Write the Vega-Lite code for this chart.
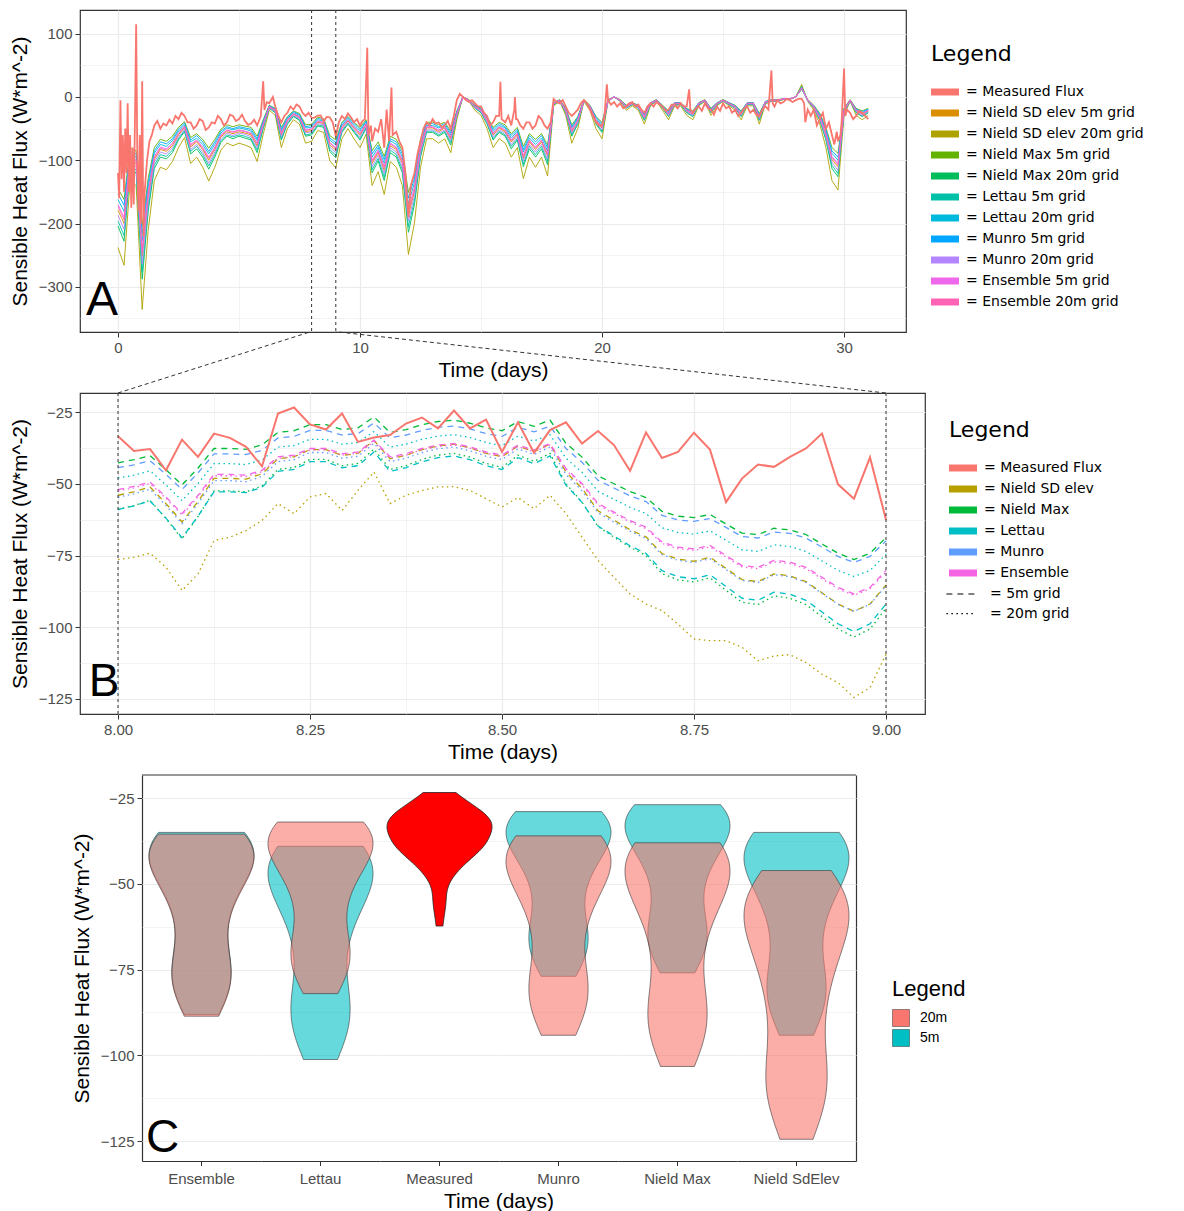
{
"$schema":"https://vega.github.io/schema/vega-lite/v6.json",
"background":"white",
"padding":{"left":8,"top":8,"right":0,"bottom":0},
"config":{
 "view":{"stroke":null},
 "font":"Liberation Sans",
 "axis":{"labelFont":"Liberation Sans","labelFontSize":15,"labelColor":"#4D4D4D","titleFont":"Liberation Sans","titleFontSize":21,"titleFontWeight":"normal","titleColor":"#000000","tickColor":"#333333","tickSize":5,"tickWidth":1,"domain":false,"gridColor":"#EBEBEB","labelPadding":3,"labelOverlap":false},
 "legend":{"titleFontWeight":"normal","titleColor":"#000000","labelColor":"#000000","padding":0},
 "header":{"labelFont":"Liberation Sans","titleFont":"Liberation Sans"}
},
"datasets":{
 "keys":[
  {"key":"ME","aname":"Measured Flux","model":"Measured Flux","cm":"Measured","grid":"meas"},
  {"key":"NS5","aname":"Nield SD elev 5m grid","model":"Nield SD elev","cm":"Nield SdElev","grid":"5m"},
  {"key":"NS20","aname":"Nield SD elev 20m grid","model":"Nield SD elev","cm":"Nield SdElev","grid":"20m"},
  {"key":"NM5","aname":"Nield Max 5m grid","model":"Nield Max","cm":"Nield Max","grid":"5m"},
  {"key":"NM20","aname":"Nield Max 20m grid","model":"Nield Max","cm":"Nield Max","grid":"20m"},
  {"key":"LE5","aname":"Lettau 5m grid","model":"Lettau","cm":"Lettau","grid":"5m"},
  {"key":"LE20","aname":"Lettau 20m grid","model":"Lettau","cm":"Lettau","grid":"20m"},
  {"key":"MU5","aname":"Munro 5m grid","model":"Munro","cm":"Munro","grid":"5m"},
  {"key":"MU20","aname":"Munro 20m grid","model":"Munro","cm":"Munro","grid":"20m"},
  {"key":"EN5","aname":"Ensemble 5m grid","model":"Ensemble","cm":"Ensemble","grid":"5m"},
  {"key":"EN20","aname":"Ensemble 20m grid","model":"Ensemble","cm":"Ensemble","grid":"20m"}
 ],
 "am":[
  {"t":0,"v":-120},{"t":0.05,"v":-160},{"t":0.1,"v":-5},{"t":0.15,"v":-130},{"t":0.2,"v":-60},{"t":0.25,"v":-150},{"t":0.3,"v":-50},{"t":0.35,"v":-120},{"t":0.4,"v":-10},{"t":0.45,"v":-150},{"t":0.5,"v":-60},{"t":0.55,"v":-175},{"t":0.6,"v":-80},{"t":0.65,"v":-170},{"t":0.7,"v":-40},{"t":0.75,"v":115},{"t":0.8,"v":-100},{"t":0.85,"v":-180},{"t":0.9,"v":-60},{"t":0.95,"v":-200},{"t":1.0,"v":25},{"t":1.05,"v":-220},{"t":1.1,"v":-150},{"t":1.2,"v":-100},{"t":1.3,"v":-70},{"t":1.4,"v":-60},
  {"t":1.5,"v":-45},{"t":1.625,"v":-38},{"t":1.75,"v":-50},{"t":1.875,"v":-42},{"t":2.0,"v":-45},{"t":2.125,"v":-36},{"t":2.25,"v":-42},{"t":2.375,"v":-30},{"t":2.5,"v":-35},{"t":2.625,"v":-25},{"t":2.75,"v":-30},{"t":2.875,"v":-40},{"t":3.0,"v":-40},{"t":3.125,"v":-50},{"t":3.25,"v":-45},{"t":3.375,"v":-35},{"t":3.5,"v":-38},{"t":3.625,"v":-52},{"t":3.75,"v":-48},{"t":3.875,"v":-40},{"t":4.0,"v":-42},{"t":4.125,"v":-30},{"t":4.25,"v":-35},{"t":4.375,"v":-45},{"t":4.5,"v":-40},{"t":4.625,"v":-28},{"t":4.75,"v":-30},{"t":4.875,"v":-38},{"t":5.0,"v":-35},{"t":5.125,"v":-28},{"t":5.25,"v":-38},{"t":5.375,"v":-44},{"t":5.5,"v":-42},{"t":5.625,"v":-36},{"t":5.75,"v":-45},{"t":5.9,"v":-30},{"t":6.0,"v":25},{"t":6.05,"v":-20},{"t":6.15,"v":-8},{"t":6.25,"v":-10},{"t":6.4,"v":0},{"t":6.5,"v":-15},{"t":6.625,"v":-30},{"t":6.75,"v":-40},{"t":6.875,"v":-30},{"t":7.0,"v":-25},{"t":7.125,"v":-15},{"t":7.25,"v":-20},{"t":7.375,"v":-12},{"t":7.5,"v":-15},{"t":7.625,"v":-25},{"t":7.75,"v":-30},{"t":7.875,"v":-25},
  {"t":8.0,"v":-33},{"t":8.125,"v":-32.5},{"t":8.25,"v":-29.3},{"t":8.375,"v":-29},{"t":8.5,"v":-38.9},{"t":8.625,"v":-31.6},{"t":8.75,"v":-32.2},{"t":8.875,"v":-40.6},{"t":9.0,"v":-62.5},{"t":9.125,"v":-40},{"t":9.25,"v":-30},{"t":9.375,"v":-35},{"t":9.5,"v":-26},{"t":9.625,"v":-32},{"t":9.75,"v":-40},{"t":9.875,"v":-35},{"t":10.0,"v":-45},{"t":10.1,"v":-38},{"t":10.2,"v":-35},{"t":10.3,"v":78},{"t":10.35,"v":-60},{"t":10.45,"v":-45},{"t":10.5,"v":-70},{"t":10.625,"v":-50},{"t":10.75,"v":-55},{"t":10.875,"v":-35},{"t":11.0,"v":-80},{"t":11.1,"v":-20},{"t":11.2,"v":-70},{"t":11.3,"v":15},{"t":11.35,"v":-60},{"t":11.5,"v":-55},{"t":11.625,"v":-70},{"t":11.75,"v":-80},{"t":11.875,"v":-120},{"t":12.0,"v":-190},{"t":12.1,"v":-140},{"t":12.25,"v":-120},{"t":12.375,"v":-90},{"t":12.5,"v":-70},{"t":12.625,"v":-50},{"t":12.75,"v":-40},{"t":12.875,"v":-45},{"t":13.0,"v":-35},{"t":13.125,"v":-42},{"t":13.25,"v":-40},{"t":13.375,"v":-48},{"t":13.5,"v":-45},{"t":13.625,"v":-38},{"t":13.75,"v":-50},{"t":13.875,"v":-30},
  {"t":14.0,"v":-5},{"t":14.125,"v":5},{"t":14.25,"v":0},{"t":14.375,"v":-5},{"t":14.5,"v":-8},{"t":14.625,"v":-5},{"t":14.75,"v":-10},{"t":14.875,"v":-15},{"t":15.0,"v":-15},{"t":15.125,"v":-25},{"t":15.25,"v":-30},{"t":15.375,"v":-45},{"t":15.5,"v":-40},{"t":15.625,"v":-30},{"t":15.75,"v":-30},{"t":15.8,"v":24},{"t":15.85,"v":-35},{"t":16.0,"v":-40},{"t":16.125,"v":-30},{"t":16.25,"v":-45},{"t":16.375,"v":-20},{"t":16.4,"v":0},{"t":16.45,"v":-35},{"t":16.5,"v":-35},{"t":16.625,"v":-45},{"t":16.75,"v":-50},{"t":16.875,"v":-40},{"t":17.0,"v":-40},{"t":17.125,"v":-50},{"t":17.25,"v":-45},{"t":17.375,"v":-30},{"t":17.5,"v":-35},{"t":17.625,"v":-45},{"t":17.75,"v":-50},{"t":17.875,"v":-40},{"t":18.0,"v":-3},{"t":18.125,"v":-8},{"t":18.25,"v":-10},{"t":18.375,"v":-5},{"t":18.5,"v":-15},{"t":18.625,"v":-25},{"t":18.75,"v":-30},{"t":18.875,"v":-25},{"t":19.0,"v":-20},{"t":19.125,"v":-10},{"t":19.25,"v":-5},{"t":19.375,"v":-10},{"t":19.5,"v":-20},{"t":19.625,"v":-30},{"t":19.75,"v":-40},{"t":19.875,"v":-45},{"t":20.0,"v":-45},{"t":20.1,"v":-30},{"t":20.2,"v":20},{"t":20.25,"v":-5},{"t":20.375,"v":-12},{"t":20.5,"v":-8},{"t":20.625,"v":-15},{"t":20.75,"v":-10},{"t":20.875,"v":-18},{"t":21.0,"v":-15},{"t":21.125,"v":-10},{"t":21.25,"v":-8},{"t":21.375,"v":-15},{"t":21.5,"v":-12},{"t":21.625,"v":-20},{"t":21.75,"v":-25},{"t":21.875,"v":-15},{"t":22.0,"v":-10},{"t":22.125,"v":-15},{"t":22.25,"v":-8},{"t":22.375,"v":-12},{"t":22.5,"v":-15},{"t":22.625,"v":-22},{"t":22.75,"v":-20},{"t":22.875,"v":-12},{"t":23.0,"v":-12},{"t":23.125,"v":-18},{"t":23.25,"v":-10},{"t":23.375,"v":-15},{"t":23.5,"v":-15},{"t":23.6,"v":12},{"t":23.65,"v":-20},{"t":23.75,"v":-25},{"t":23.875,"v":-18},
  {"t":24.0,"v":-15},{"t":24.125,"v":-22},{"t":24.25,"v":-10},{"t":24.375,"v":-18},{"t":24.5,"v":-20},{"t":24.625,"v":-28},{"t":24.75,"v":-15},{"t":24.875,"v":-22},{"t":25.0,"v":-10},{"t":25.125,"v":-18},{"t":25.25,"v":-15},{"t":25.375,"v":-25},{"t":25.5,"v":-20},{"t":25.625,"v":-30},{"t":25.75,"v":-25},{"t":25.875,"v":-18},{"t":26.0,"v":-15},{"t":26.125,"v":-25},{"t":26.25,"v":-20},{"t":26.375,"v":-28},{"t":26.5,"v":-30},{"t":26.625,"v":-20},{"t":26.75,"v":-15},{"t":26.875,"v":-20},{"t":27.0,"v":42},{"t":27.05,"v":-10},{"t":27.125,"v":-15},{"t":27.25,"v":-5},{"t":27.375,"v":-10},{"t":27.5,"v":-8},{"t":27.625,"v":-3},{"t":27.75,"v":-5},{"t":27.875,"v":-8},{"t":28.0,"v":-5},{"t":28.125,"v":-3},{"t":28.25,"v":-3},{"t":28.35,"v":-10},{"t":28.4,"v":-40},{"t":28.5,"v":-20},{"t":28.625,"v":-30},{"t":28.75,"v":-20},{"t":28.875,"v":-45},{"t":29.0,"v":-35},{"t":29.125,"v":-25},{"t":29.25,"v":-50},{"t":29.375,"v":-40},{"t":29.5,"v":-60},{"t":29.6,"v":-75},{"t":29.7,"v":-55},{"t":29.75,"v":-70},{"t":29.85,"v":-60},{"t":29.9,"v":-40},{"t":30.0,"v":45},{"t":30.05,"v":-30},{"t":30.125,"v":-20},{"t":30.25,"v":-25},{"t":30.375,"v":-35},{"t":30.5,"v":-30},{"t":30.625,"v":-22},{"t":30.75,"v":-25},{"t":30.875,"v":-30},{"t":31.0,"v":-35}
 ],
 "aw":[
  {"t":0,"EN5":-170,"NM5":-145,"MU5":-153,"LE20":-162,"EN20":-173,"NS5":-179,"MU20":-187,"LE5":-196,"NM20":-204,"NS20":-238},
  {"t":0.25,"EN5":-190,"NM5":-162,"MU5":-171,"LE20":-181,"EN20":-194,"NS5":-200,"MU20":-209,"LE5":-219,"NM20":-228,"NS20":-266},
  {"t":0.5,"EN5":-95,"NM5":-81,"MU5":-86,"LE20":-90,"EN20":-97,"NS5":-100,"MU20":-105,"LE5":-109,"NM20":-114,"NS20":-133},
  {"t":0.75,"EN5":-100,"NM5":-85,"MU5":-90,"LE20":-95,"EN20":-102,"NS5":-105,"MU20":-110,"LE5":-115,"NM20":-120,"NS20":-140},
  {"t":1,"EN5":-240,"NM5":-204,"MU5":-216,"LE20":-228,"EN20":-245,"NS5":-252,"MU20":-264,"LE5":-276,"NM20":-288,"NS20":-336},
  {"t":1.25,"EN5":-150,"NM5":-128,"MU5":-135,"LE20":-143,"EN20":-153,"NS5":-158,"MU20":-165,"LE5":-173,"NM20":-180,"NS20":-210},
  {"t":1.5,"EN5":-94,"NM5":-80,"MU5":-85,"LE20":-89,"EN20":-96,"NS5":-99,"MU20":-103,"LE5":-108,"NM20":-113,"NS20":-132},
  {"t":1.75,"EN5":-79,"NM5":-67,"MU5":-71,"LE20":-75,"EN20":-81,"NS5":-83,"MU20":-87,"LE5":-91,"NM20":-95,"NS20":-111},
  {"t":2,"EN5":-82,"NM5":-70,"MU5":-74,"LE20":-78,"EN20":-84,"NS5":-86,"MU20":-90,"LE5":-94,"NM20":-98,"NS20":-115},
  {"t":2.25,"EN5":-73,"NM5":-62,"MU5":-66,"LE20":-69,"EN20":-74,"NS5":-77,"MU20":-80,"LE5":-84,"NM20":-88,"NS20":-102},
  {"t":2.5,"EN5":-57,"NM5":-48,"MU5":-51,"LE20":-54,"EN20":-58,"NS5":-60,"MU20":-63,"LE5":-66,"NM20":-68,"NS20":-80},
  {"t":2.75,"EN5":-46,"NM5":-39,"MU5":-41,"LE20":-44,"EN20":-47,"NS5":-48,"MU20":-51,"LE5":-53,"NM20":-55,"NS20":-64},
  {"t":3,"EN5":-75,"NM5":-64,"MU5":-68,"LE20":-71,"EN20":-77,"NS5":-79,"MU20":-83,"LE5":-86,"NM20":-90,"NS20":-105},
  {"t":3.25,"EN5":-68,"NM5":-58,"MU5":-61,"LE20":-65,"EN20":-69,"NS5":-71,"MU20":-75,"LE5":-78,"NM20":-82,"NS20":-95},
  {"t":3.5,"EN5":-79,"NM5":-67,"MU5":-71,"LE20":-75,"EN20":-81,"NS5":-83,"MU20":-87,"LE5":-91,"NM20":-95,"NS20":-111},
  {"t":3.75,"EN5":-95,"NM5":-81,"MU5":-86,"LE20":-90,"EN20":-97,"NS5":-100,"MU20":-105,"LE5":-109,"NM20":-114,"NS20":-133},
  {"t":4,"EN5":-79,"NM5":-67,"MU5":-71,"LE20":-75,"EN20":-81,"NS5":-83,"MU20":-87,"LE5":-91,"NM20":-95,"NS20":-111},
  {"t":4.25,"EN5":-60,"NM5":-51,"MU5":-54,"LE20":-57,"EN20":-61,"NS5":-63,"MU20":-66,"LE5":-69,"NM20":-72,"NS20":-84},
  {"t":4.5,"EN5":-52,"NM5":-44,"MU5":-47,"LE20":-49,"EN20":-53,"NS5":-55,"MU20":-57,"LE5":-60,"NM20":-62,"NS20":-73},
  {"t":4.75,"EN5":-55,"NM5":-47,"MU5":-50,"LE20":-52,"EN20":-56,"NS5":-58,"MU20":-61,"LE5":-63,"NM20":-66,"NS20":-77},
  {"t":5,"EN5":-52,"NM5":-44,"MU5":-47,"LE20":-49,"EN20":-53,"NS5":-55,"MU20":-57,"LE5":-60,"NM20":-62,"NS20":-73},
  {"t":5.25,"EN5":-54,"NM5":-46,"MU5":-49,"LE20":-51,"EN20":-55,"NS5":-57,"MU20":-59,"LE5":-62,"NM20":-65,"NS20":-76},
  {"t":5.5,"EN5":-57,"NM5":-48,"MU5":-51,"LE20":-54,"EN20":-58,"NS5":-60,"MU20":-63,"LE5":-66,"NM20":-68,"NS20":-80},
  {"t":5.75,"EN5":-73,"NM5":-62,"MU5":-66,"LE20":-69,"EN20":-74,"NS5":-77,"MU20":-80,"LE5":-84,"NM20":-88,"NS20":-102},
  {"t":6,"EN5":-42,"NM5":-36,"MU5":-38,"LE20":-40,"EN20":-43,"NS5":-44,"MU20":-46,"LE5":-48,"NM20":-50,"NS20":-59},
  {"t":6.25,"EN5":-15,"NM5":-13,"MU5":-14,"LE20":-14,"EN20":-15,"NS5":-16,"MU20":-17,"LE5":-17,"NM20":-18,"NS20":-21},
  {"t":6.5,"EN5":-21,"NM5":-18,"MU5":-19,"LE20":-20,"EN20":-21,"NS5":-22,"MU20":-23,"LE5":-24,"NM20":-25,"NS20":-29},
  {"t":6.75,"EN5":-57,"NM5":-48,"MU5":-51,"LE20":-54,"EN20":-58,"NS5":-60,"MU20":-63,"LE5":-66,"NM20":-68,"NS20":-80},
  {"t":7,"EN5":-36,"NM5":-31,"MU5":-32,"LE20":-34,"EN20":-37,"NS5":-38,"MU20":-40,"LE5":-41,"NM20":-43,"NS20":-50},
  {"t":7.25,"EN5":-26,"NM5":-22,"MU5":-23,"LE20":-25,"EN20":-27,"NS5":-27,"MU20":-29,"LE5":-30,"NM20":-31,"NS20":-36},
  {"t":7.5,"EN5":-31,"NM5":-26,"MU5":-28,"LE20":-29,"EN20":-32,"NS5":-33,"MU20":-34,"LE5":-36,"NM20":-37,"NS20":-43},
  {"t":7.75,"EN5":-52,"NM5":-44,"MU5":-47,"LE20":-49,"EN20":-53,"NS5":-55,"MU20":-57,"LE5":-60,"NM20":-62,"NS20":-73},
  {"t":8,"EN5":-50,"NM5":-43,"MU5":-45,"LE20":-48,"EN20":-51,"NS5":-53,"MU20":-55,"LE5":-58,"NM20":-60,"NS20":-70},
  {"t":8.25,"EN5":-38,"NM5":-32,"MU5":-34,"LE20":-36,"EN20":-39,"NS5":-40,"MU20":-42,"LE5":-44,"NM20":-46,"NS20":-53},
  {"t":8.5,"EN5":-40,"NM5":-34,"MU5":-36,"LE20":-38,"EN20":-41,"NS5":-42,"MU20":-44,"LE5":-46,"NM20":-48,"NS20":-56},
  {"t":8.75,"EN5":-72,"NM5":-61,"MU5":-65,"LE20":-68,"EN20":-73,"NS5":-76,"MU20":-79,"LE5":-83,"NM20":-86,"NS20":-101},
  {"t":9,"EN5":-80,"NM5":-68,"MU5":-72,"LE20":-76,"EN20":-82,"NS5":-84,"MU20":-88,"LE5":-92,"NM20":-96,"NS20":-112},
  {"t":9.25,"EN5":-47,"NM5":-40,"MU5":-42,"LE20":-45,"EN20":-48,"NS5":-49,"MU20":-52,"LE5":-54,"NM20":-56,"NS20":-66},
  {"t":9.5,"EN5":-36,"NM5":-31,"MU5":-32,"LE20":-34,"EN20":-37,"NS5":-38,"MU20":-40,"LE5":-41,"NM20":-43,"NS20":-50},
  {"t":9.75,"EN5":-47,"NM5":-40,"MU5":-42,"LE20":-45,"EN20":-48,"NS5":-49,"MU20":-52,"LE5":-54,"NM20":-56,"NS20":-66},
  {"t":10,"EN5":-57,"NM5":-48,"MU5":-51,"LE20":-54,"EN20":-58,"NS5":-60,"MU20":-63,"LE5":-66,"NM20":-68,"NS20":-80},
  {"t":10.25,"EN5":-42,"NM5":-36,"MU5":-38,"LE20":-40,"EN20":-43,"NS5":-44,"MU20":-46,"LE5":-48,"NM20":-50,"NS20":-59},
  {"t":10.5,"EN5":-100,"NM5":-85,"MU5":-90,"LE20":-95,"EN20":-102,"NS5":-105,"MU20":-110,"LE5":-115,"NM20":-120,"NS20":-140},
  {"t":10.75,"EN5":-84,"NM5":-71,"MU5":-76,"LE20":-80,"EN20":-86,"NS5":-88,"MU20":-92,"LE5":-97,"NM20":-101,"NS20":-118},
  {"t":11,"EN5":-110,"NM5":-94,"MU5":-99,"LE20":-105,"EN20":-112,"NS5":-116,"MU20":-121,"LE5":-127,"NM20":-132,"NS20":-154},
  {"t":11.25,"EN5":-73,"NM5":-62,"MU5":-66,"LE20":-69,"EN20":-74,"NS5":-77,"MU20":-80,"LE5":-84,"NM20":-88,"NS20":-102},
  {"t":11.5,"EN5":-79,"NM5":-67,"MU5":-71,"LE20":-75,"EN20":-81,"NS5":-83,"MU20":-87,"LE5":-91,"NM20":-95,"NS20":-111},
  {"t":11.75,"EN5":-100,"NM5":-85,"MU5":-90,"LE20":-95,"EN20":-102,"NS5":-105,"MU20":-110,"LE5":-115,"NM20":-120,"NS20":-140},
  {"t":12,"EN5":-178,"NM5":-151,"MU5":-160,"LE20":-169,"EN20":-182,"NS5":-187,"MU20":-196,"LE5":-205,"NM20":-214,"NS20":-249},
  {"t":12.25,"EN5":-142,"NM5":-121,"MU5":-128,"LE20":-135,"EN20":-145,"NS5":-149,"MU20":-156,"LE5":-163,"NM20":-170,"NS20":-199},
  {"t":12.5,"EN5":-79,"NM5":-67,"MU5":-71,"LE20":-75,"EN20":-81,"NS5":-83,"MU20":-87,"LE5":-91,"NM20":-95,"NS20":-111},
  {"t":12.75,"EN5":-47,"NM5":-40,"MU5":-42,"LE20":-45,"EN20":-48,"NS5":-49,"MU20":-52,"LE5":-54,"NM20":-56,"NS20":-66},
  {"t":13,"EN5":-47,"NM5":-40,"MU5":-42,"LE20":-45,"EN20":-48,"NS5":-49,"MU20":-52,"LE5":-54,"NM20":-56,"NS20":-66},
  {"t":13.25,"EN5":-52,"NM5":-44,"MU5":-47,"LE20":-49,"EN20":-53,"NS5":-55,"MU20":-57,"LE5":-60,"NM20":-62,"NS20":-73},
  {"t":13.5,"EN5":-47,"NM5":-40,"MU5":-42,"LE20":-45,"EN20":-48,"NS5":-49,"MU20":-52,"LE5":-54,"NM20":-56,"NS20":-66},
  {"t":13.75,"EN5":-63,"NM5":-54,"MU5":-57,"LE20":-60,"EN20":-64,"NS5":-66,"MU20":-69,"LE5":-72,"NM20":-76,"NS20":-88},
  {"t":14,"EN5":-26,"NM5":-22,"MU5":-23,"LE20":-25,"EN20":-27,"NS5":-27,"MU20":-29,"LE5":-30,"NM20":-31,"NS20":-36},
  {"t":14.25,"EN5":0,"NM5":0,"MU5":0,"LE20":0,"EN20":0,"NS5":0,"MU20":0,"LE5":0,"NM20":0,"NS20":0},
  {"t":14.5,"EN5":-5,"NM5":-4,"MU5":-5,"LE20":-5,"EN20":-5,"NS5":-5,"MU20":-6,"LE5":-6,"NM20":-6,"NS20":-7},
  {"t":14.75,"EN5":-15,"NM5":-13,"MU5":-14,"LE20":-14,"EN20":-15,"NS5":-16,"MU20":-17,"LE5":-17,"NM20":-18,"NS20":-21},
  {"t":15,"EN5":-21,"NM5":-18,"MU5":-19,"LE20":-20,"EN20":-21,"NS5":-22,"MU20":-23,"LE5":-24,"NM20":-25,"NS20":-29},
  {"t":15.25,"EN5":-36,"NM5":-31,"MU5":-32,"LE20":-34,"EN20":-37,"NS5":-38,"MU20":-40,"LE5":-41,"NM20":-43,"NS20":-50},
  {"t":15.5,"EN5":-57,"NM5":-48,"MU5":-51,"LE20":-54,"EN20":-58,"NS5":-60,"MU20":-63,"LE5":-66,"NM20":-68,"NS20":-80},
  {"t":15.75,"EN5":-47,"NM5":-40,"MU5":-42,"LE20":-45,"EN20":-48,"NS5":-49,"MU20":-52,"LE5":-54,"NM20":-56,"NS20":-66},
  {"t":16,"EN5":-52,"NM5":-44,"MU5":-47,"LE20":-49,"EN20":-53,"NS5":-55,"MU20":-57,"LE5":-60,"NM20":-62,"NS20":-73},
  {"t":16.25,"EN5":-68,"NM5":-58,"MU5":-61,"LE20":-65,"EN20":-69,"NS5":-71,"MU20":-75,"LE5":-78,"NM20":-82,"NS20":-95},
  {"t":16.5,"EN5":-57,"NM5":-48,"MU5":-51,"LE20":-54,"EN20":-58,"NS5":-60,"MU20":-63,"LE5":-66,"NM20":-68,"NS20":-80},
  {"t":16.75,"EN5":-92,"NM5":-78,"MU5":-83,"LE20":-87,"EN20":-94,"NS5":-97,"MU20":-101,"LE5":-106,"NM20":-110,"NS20":-129},
  {"t":17,"EN5":-68,"NM5":-58,"MU5":-61,"LE20":-65,"EN20":-69,"NS5":-71,"MU20":-75,"LE5":-78,"NM20":-82,"NS20":-95},
  {"t":17.25,"EN5":-79,"NM5":-67,"MU5":-71,"LE20":-75,"EN20":-81,"NS5":-83,"MU20":-87,"LE5":-91,"NM20":-95,"NS20":-111},
  {"t":17.5,"EN5":-68,"NM5":-58,"MU5":-61,"LE20":-65,"EN20":-69,"NS5":-71,"MU20":-75,"LE5":-78,"NM20":-82,"NS20":-95},
  {"t":17.75,"EN5":-89,"NM5":-76,"MU5":-80,"LE20":-85,"EN20":-91,"NS5":-93,"MU20":-98,"LE5":-102,"NM20":-107,"NS20":-125},
  {"t":18,"EN5":-10,"NM5":-9,"MU5":-9,"LE20":-10,"EN20":-10,"NS5":-11,"MU20":-11,"LE5":-12,"NM20":-12,"NS20":-14},
  {"t":18.25,"EN5":-5,"NM5":-4,"MU5":-5,"LE20":-5,"EN20":-5,"NS5":-5,"MU20":-6,"LE5":-6,"NM20":-6,"NS20":-7},
  {"t":18.5,"EN5":-21,"NM5":-18,"MU5":-19,"LE20":-20,"EN20":-21,"NS5":-22,"MU20":-23,"LE5":-24,"NM20":-25,"NS20":-29},
  {"t":18.75,"EN5":-52,"NM5":-44,"MU5":-47,"LE20":-49,"EN20":-53,"NS5":-55,"MU20":-57,"LE5":-60,"NM20":-62,"NS20":-73},
  {"t":19,"EN5":-36,"NM5":-31,"MU5":-32,"LE20":-34,"EN20":-37,"NS5":-38,"MU20":-40,"LE5":-41,"NM20":-43,"NS20":-50},
  {"t":19.25,"EN5":-5,"NM5":-4,"MU5":-5,"LE20":-5,"EN20":-5,"NS5":-5,"MU20":-6,"LE5":-6,"NM20":-6,"NS20":-7},
  {"t":19.5,"EN5":-15,"NM5":-13,"MU5":-14,"LE20":-14,"EN20":-15,"NS5":-16,"MU20":-17,"LE5":-17,"NM20":-18,"NS20":-21},
  {"t":19.75,"EN5":-36,"NM5":-31,"MU5":-32,"LE20":-34,"EN20":-37,"NS5":-38,"MU20":-40,"LE5":-41,"NM20":-43,"NS20":-50},
  {"t":20,"EN5":-47,"NM5":-40,"MU5":-42,"LE20":-45,"EN20":-48,"NS5":-49,"MU20":-52,"LE5":-54,"NM20":-56,"NS20":-66},
  {"t":20.25,"EN5":-5,"NM5":-4,"MU5":-5,"LE20":-5,"EN20":-5,"NS5":-5,"MU20":-6,"LE5":-6,"NM20":-6,"NS20":-7},
  {"t":20.5,"EN5":0,"NM5":0,"MU5":0,"LE20":0,"EN20":0,"NS5":0,"MU20":0,"LE5":0,"NM20":0,"NS20":0},
  {"t":20.75,"EN5":-5,"NM5":-4,"MU5":-5,"LE20":-5,"EN20":-5,"NS5":-5,"MU20":-6,"LE5":-6,"NM20":-6,"NS20":-7},
  {"t":21,"EN5":-15,"NM5":-13,"MU5":-14,"LE20":-14,"EN20":-15,"NS5":-16,"MU20":-17,"LE5":-17,"NM20":-18,"NS20":-21},
  {"t":21.25,"EN5":-10,"NM5":-9,"MU5":-9,"LE20":-10,"EN20":-10,"NS5":-11,"MU20":-11,"LE5":-12,"NM20":-12,"NS20":-14},
  {"t":21.5,"EN5":-15,"NM5":-13,"MU5":-14,"LE20":-14,"EN20":-15,"NS5":-16,"MU20":-17,"LE5":-17,"NM20":-18,"NS20":-21},
  {"t":21.75,"EN5":-31,"NM5":-26,"MU5":-28,"LE20":-29,"EN20":-32,"NS5":-33,"MU20":-34,"LE5":-36,"NM20":-37,"NS20":-43},
  {"t":22,"EN5":-10,"NM5":-9,"MU5":-9,"LE20":-10,"EN20":-10,"NS5":-11,"MU20":-11,"LE5":-12,"NM20":-12,"NS20":-14},
  {"t":22.25,"EN5":-5,"NM5":-4,"MU5":-5,"LE20":-5,"EN20":-5,"NS5":-5,"MU20":-6,"LE5":-6,"NM20":-6,"NS20":-7},
  {"t":22.5,"EN5":-15,"NM5":-13,"MU5":-14,"LE20":-14,"EN20":-15,"NS5":-16,"MU20":-17,"LE5":-17,"NM20":-18,"NS20":-21},
  {"t":22.75,"EN5":-26,"NM5":-22,"MU5":-23,"LE20":-25,"EN20":-27,"NS5":-27,"MU20":-29,"LE5":-30,"NM20":-31,"NS20":-36},
  {"t":23,"EN5":-10,"NM5":-9,"MU5":-9,"LE20":-10,"EN20":-10,"NS5":-11,"MU20":-11,"LE5":-12,"NM20":-12,"NS20":-14},
  {"t":23.25,"EN5":-10,"NM5":-9,"MU5":-9,"LE20":-10,"EN20":-10,"NS5":-11,"MU20":-11,"LE5":-12,"NM20":-12,"NS20":-14},
  {"t":23.5,"EN5":-21,"NM5":-18,"MU5":-19,"LE20":-20,"EN20":-21,"NS5":-22,"MU20":-23,"LE5":-24,"NM20":-25,"NS20":-29},
  {"t":23.75,"EN5":-26,"NM5":-22,"MU5":-23,"LE20":-25,"EN20":-27,"NS5":-27,"MU20":-29,"LE5":-30,"NM20":-31,"NS20":-36},
  {"t":24,"EN5":-10,"NM5":-9,"MU5":-9,"LE20":-10,"EN20":-10,"NS5":-11,"MU20":-11,"LE5":-12,"NM20":-12,"NS20":-14},
  {"t":24.25,"EN5":-5,"NM5":-4,"MU5":-5,"LE20":-5,"EN20":-5,"NS5":-5,"MU20":-6,"LE5":-6,"NM20":-6,"NS20":-7},
  {"t":24.5,"EN5":-21,"NM5":-18,"MU5":-19,"LE20":-20,"EN20":-21,"NS5":-22,"MU20":-23,"LE5":-24,"NM20":-25,"NS20":-29},
  {"t":24.75,"EN5":-10,"NM5":-9,"MU5":-9,"LE20":-10,"EN20":-10,"NS5":-11,"MU20":-11,"LE5":-12,"NM20":-12,"NS20":-14},
  {"t":25,"EN5":-5,"NM5":-4,"MU5":-5,"LE20":-5,"EN20":-5,"NS5":-5,"MU20":-6,"LE5":-6,"NM20":-6,"NS20":-7},
  {"t":25.25,"EN5":-10,"NM5":-9,"MU5":-9,"LE20":-10,"EN20":-10,"NS5":-11,"MU20":-11,"LE5":-12,"NM20":-12,"NS20":-14},
  {"t":25.5,"EN5":-15,"NM5":-13,"MU5":-14,"LE20":-14,"EN20":-15,"NS5":-16,"MU20":-17,"LE5":-17,"NM20":-18,"NS20":-21},
  {"t":25.75,"EN5":-26,"NM5":-22,"MU5":-23,"LE20":-25,"EN20":-27,"NS5":-27,"MU20":-29,"LE5":-30,"NM20":-31,"NS20":-36},
  {"t":26,"EN5":-10,"NM5":-9,"MU5":-9,"LE20":-10,"EN20":-10,"NS5":-11,"MU20":-11,"LE5":-12,"NM20":-12,"NS20":-14},
  {"t":26.25,"EN5":-10,"NM5":-9,"MU5":-9,"LE20":-10,"EN20":-10,"NS5":-11,"MU20":-11,"LE5":-12,"NM20":-12,"NS20":-14},
  {"t":26.5,"EN5":-31,"NM5":-26,"MU5":-28,"LE20":-29,"EN20":-32,"NS5":-33,"MU20":-34,"LE5":-36,"NM20":-37,"NS20":-43},
  {"t":26.75,"EN5":-8,"NM5":-7,"MU5":-7,"LE20":-8,"EN20":-8,"NS5":-8,"MU20":-9,"LE5":-9,"NM20":-10,"NS20":-11},
  {"t":27,"EN5":-5,"NM5":-4,"MU5":-5,"LE20":-5,"EN20":-5,"NS5":-5,"MU20":-6,"LE5":-6,"NM20":-6,"NS20":-7},
  {"t":27.25,"EN5":-5,"NM5":-4,"MU5":-5,"LE20":-5,"EN20":-5,"NS5":-5,"MU20":-6,"LE5":-6,"NM20":-6,"NS20":-7},
  {"t":27.5,"EN5":-3,"NM5":-3,"MU5":-3,"LE20":-3,"EN20":-3,"NS5":-3,"MU20":-3,"LE5":-3,"NM20":-4,"NS20":-4},
  {"t":27.75,"EN5":-3,"NM5":-3,"MU5":-3,"LE20":-3,"EN20":-3,"NS5":-3,"MU20":-3,"LE5":-3,"NM20":-4,"NS20":-4},
  {"t":28,"EN5":0,"NM5":0,"MU5":0,"LE20":0,"EN20":0,"NS5":0,"MU20":0,"LE5":0,"NM20":0,"NS20":0},
  {"t":28.25,"EN5":14,"NM5":12,"MU5":13,"LE20":13,"EN20":14,"NS5":15,"MU20":15,"LE5":16,"NM20":17,"NS20":20},
  {"t":28.5,"EN5":-5,"NM5":-4,"MU5":-5,"LE20":-5,"EN20":-5,"NS5":-5,"MU20":-6,"LE5":-6,"NM20":-6,"NS20":-7},
  {"t":28.75,"EN5":-15,"NM5":-13,"MU5":-14,"LE20":-14,"EN20":-15,"NS5":-16,"MU20":-17,"LE5":-17,"NM20":-18,"NS20":-21},
  {"t":29,"EN5":-31,"NM5":-26,"MU5":-28,"LE20":-29,"EN20":-32,"NS5":-33,"MU20":-34,"LE5":-36,"NM20":-37,"NS20":-43},
  {"t":29.25,"EN5":-57,"NM5":-48,"MU5":-51,"LE20":-54,"EN20":-58,"NS5":-60,"MU20":-63,"LE5":-66,"NM20":-68,"NS20":-80},
  {"t":29.5,"EN5":-94,"NM5":-80,"MU5":-85,"LE20":-89,"EN20":-96,"NS5":-99,"MU20":-103,"LE5":-108,"NM20":-113,"NS20":-132},
  {"t":29.75,"EN5":-105,"NM5":-89,"MU5":-95,"LE20":-100,"EN20":-107,"NS5":-110,"MU20":-116,"LE5":-121,"NM20":-126,"NS20":-147},
  {"t":30,"EN5":-21,"NM5":-18,"MU5":-19,"LE20":-20,"EN20":-21,"NS5":-22,"MU20":-23,"LE5":-24,"NM20":-25,"NS20":-29},
  {"t":30.25,"EN5":-5,"NM5":-4,"MU5":-5,"LE20":-5,"EN20":-5,"NS5":-5,"MU20":-6,"LE5":-6,"NM20":-6,"NS20":-7},
  {"t":30.5,"EN5":-21,"NM5":-18,"MU5":-19,"LE20":-20,"EN20":-21,"NS5":-22,"MU20":-23,"LE5":-24,"NM20":-25,"NS20":-29},
  {"t":30.75,"EN5":-26,"NM5":-22,"MU5":-23,"LE20":-25,"EN20":-27,"NS5":-27,"MU20":-29,"LE5":-30,"NM20":-31,"NS20":-36},
  {"t":31,"EN5":-21,"NM5":-18,"MU5":-19,"LE20":-20,"EN20":-21,"NS5":-22,"MU20":-23,"LE5":-24,"NM20":-25,"NS20":-29}
 ],
 "bw":[
  {"t":8,"ME":-33.4,"NS5":-54.0,"NS20":-76.4,"NM5":-42.7,"NM20":-58.9,"LE5":-59.0,"LE20":-48.0,"MU5":-44.4,"MU20":-54.7,"EN5":-52.0,"EN20":-52.5},
  {"t":8.0208,"ME":-38.6,"NS5":-52.8,"NS20":-75.6,"NM5":-41.6,"NM20":-57.6,"LE5":-57.7,"LE20":-47.0,"MU5":-43.4,"MU20":-53.5,"EN5":-50.9,"EN20":-51.4},
  {"t":8.0417,"ME":-37.9,"NS5":-51.1,"NS20":-74.2,"NM5":-40.2,"NM20":-55.8,"LE5":-56.0,"LE20":-45.5,"MU5":-42.0,"MU20":-51.9,"EN5":-49.4,"EN20":-49.9},
  {"t":8.0625,"ME":-45.3,"NS5":-56.9,"NS20":-79.1,"NM5":-45.1,"NM20":-62.1,"LE5":-62.0,"LE20":-50.4,"MU5":-46.7,"MU20":-57.6,"EN5":-54.6,"EN20":-55.1},
  {"t":8.0833,"ME":-34.6,"NS5":-63.3,"NS20":-87.2,"NM5":-50.4,"NM20":-69.2,"LE5":-68.8,"LE20":-55.9,"MU5":-52.0,"MU20":-63.9,"EN5":-60.4,"EN20":-60.9},
  {"t":8.1042,"ME":-40.6,"NS5":-56.2,"NS20":-81.4,"NM5":-44.5,"NM20":-61.4,"LE5":-61.3,"LE20":-49.9,"MU5":-46.2,"MU20":-56.9,"EN5":-54.0,"EN20":-54.5},
  {"t":8.125,"ME":-32.5,"NS5":-48.1,"NS20":-69.8,"NM5":-37.7,"NM20":-52.5,"LE5":-52.8,"LE20":-43.0,"MU5":-39.6,"MU20":-48.9,"EN5":-46.7,"EN20":-47.2},
  {"t":8.1458,"ME":-34.0,"NS5":-48.1,"NS20":-68.6,"NM5":-37.7,"NM20":-52.5,"LE5":-52.8,"LE20":-43.0,"MU5":-39.6,"MU20":-48.9,"EN5":-46.7,"EN20":-47.2},
  {"t":8.1667,"ME":-37.1,"NS5":-48.4,"NS20":-66.3,"NM5":-38.0,"NM20":-52.8,"LE5":-53.1,"LE20":-43.3,"MU5":-39.8,"MU20":-49.3,"EN5":-47.0,"EN20":-47.5},
  {"t":8.1875,"ME":-43.9,"NS5":-46.5,"NS20":-62.8,"NM5":-36.4,"NM20":-50.8,"LE5":-51.2,"LE20":-41.7,"MU5":-38.3,"MU20":-47.4,"EN5":-45.3,"EN20":-45.8},
  {"t":8.2083,"ME":-25.5,"NS5":-41.3,"NS20":-56.9,"NM5":-32.1,"NM20":-45.0,"LE5":-45.7,"LE20":-37.2,"MU5":-34.0,"MU20":-42.3,"EN5":-40.6,"EN20":-41.1},
  {"t":8.2292,"ME":-23.4,"NS5":-40.6,"NS20":-60.4,"NM5":-31.5,"NM20":-44.3,"LE5":-45.0,"LE20":-36.7,"MU5":-33.5,"MU20":-41.6,"EN5":-40.0,"EN20":-40.5},
  {"t":8.25,"ME":-29.3,"NS5":-38.1,"NS20":-54.6,"NM5":-29.4,"NM20":-41.5,"LE5":-42.3,"LE20":-34.5,"MU5":-31.4,"MU20":-39.1,"EN5":-37.7,"EN20":-38.2},
  {"t":8.2708,"ME":-31.1,"NS5":-38.1,"NS20":-53.4,"NM5":-29.4,"NM20":-41.5,"LE5":-42.3,"LE20":-34.5,"MU5":-31.4,"MU20":-39.1,"EN5":-37.7,"EN20":-38.2},
  {"t":8.2917,"ME":-25.5,"NS5":-40.1,"NS20":-59.3,"NM5":-31.1,"NM20":-43.7,"LE5":-44.4,"LE20":-36.2,"MU5":-33.0,"MU20":-41.1,"EN5":-39.5,"EN20":-40.0},
  {"t":8.3125,"ME":-35.4,"NS5":-39.4,"NS20":-52.3,"NM5":-30.5,"NM20":-42.9,"LE5":-43.7,"LE20":-35.6,"MU5":-32.5,"MU20":-40.4,"EN5":-38.9,"EN20":-39.4},
  {"t":8.3333,"ME":-33.9,"NS5":-34.9,"NS20":-45.9,"NM5":-26.7,"NM20":-37.9,"LE5":-38.9,"LE20":-31.8,"MU5":-28.8,"MU20":-35.9,"EN5":-34.8,"EN20":-35.3},
  {"t":8.3542,"ME":-33.0,"NS5":-41.3,"NS20":-56.9,"NM5":-32.1,"NM20":-45.0,"LE5":-45.7,"LE20":-37.2,"MU5":-34.0,"MU20":-42.3,"EN5":-40.6,"EN20":-41.1},
  {"t":8.375,"ME":-29.0,"NS5":-40.1,"NS20":-54.0,"NM5":-31.1,"NM20":-43.7,"LE5":-44.4,"LE20":-36.2,"MU5":-33.0,"MU20":-41.1,"EN5":-39.5,"EN20":-40.0},
  {"t":8.3958,"ME":-26.9,"NS5":-38.1,"NS20":-52.3,"NM5":-29.4,"NM20":-41.5,"LE5":-42.3,"LE20":-34.5,"MU5":-31.4,"MU20":-39.1,"EN5":-37.7,"EN20":-38.2},
  {"t":8.4167,"ME":-30.7,"NS5":-36.8,"NS20":-51.1,"NM5":-28.3,"NM20":-40.0,"LE5":-40.9,"LE20":-33.4,"MU5":-30.3,"MU20":-37.8,"EN5":-36.5,"EN20":-37.0},
  {"t":8.4375,"ME":-24.5,"NS5":-36.2,"NS20":-51.0,"NM5":-27.8,"NM20":-39.4,"LE5":-40.3,"LE20":-32.9,"MU5":-29.9,"MU20":-37.2,"EN5":-36.0,"EN20":-36.5},
  {"t":8.4583,"ME":-30.7,"NS5":-37.4,"NS20":-52.3,"NM5":-28.9,"NM20":-40.7,"LE5":-41.6,"LE20":-33.9,"MU5":-30.9,"MU20":-38.5,"EN5":-37.1,"EN20":-37.6},
  {"t":8.4792,"ME":-27.6,"NS5":-39.4,"NS20":-55.2,"NM5":-30.5,"NM20":-42.9,"LE5":-43.7,"LE20":-35.6,"MU5":-32.5,"MU20":-40.4,"EN5":-38.9,"EN20":-39.4},
  {"t":8.5,"ME":-38.9,"NS5":-40.6,"NS20":-58.1,"NM5":-31.5,"NM20":-44.3,"LE5":-45.0,"LE20":-36.7,"MU5":-33.5,"MU20":-41.6,"EN5":-40.0,"EN20":-40.5},
  {"t":8.5208,"ME":-28.6,"NS5":-36.8,"NS20":-54.8,"NM5":-28.3,"NM20":-40.0,"LE5":-40.9,"LE20":-33.4,"MU5":-30.3,"MU20":-37.8,"EN5":-36.5,"EN20":-37.0},
  {"t":8.5417,"ME":-39.2,"NS5":-38.8,"NS20":-58.7,"NM5":-30.0,"NM20":-42.2,"LE5":-43.0,"LE20":-35.1,"MU5":-31.9,"MU20":-39.8,"EN5":-38.3,"EN20":-38.8},
  {"t":8.5625,"ME":-31.3,"NS5":-36.2,"NS20":-54.0,"NM5":-27.8,"NM20":-39.4,"LE5":-40.3,"LE20":-32.9,"MU5":-29.9,"MU20":-37.2,"EN5":-36.0,"EN20":-36.5},
  {"t":8.5833,"ME":-28.6,"NS5":-45.9,"NS20":-60.4,"NM5":-35.9,"NM20":-50.0,"LE5":-50.5,"LE20":-41.1,"MU5":-37.7,"MU20":-46.8,"EN5":-44.7,"EN20":-45.2},
  {"t":8.6042,"ME":-36.0,"NS5":-51.6,"NS20":-68.6,"NM5":-40.7,"NM20":-56.4,"LE5":-56.5,"LE20":-46.0,"MU5":-42.5,"MU20":-52.4,"EN5":-49.9,"EN20":-50.4},
  {"t":8.625,"ME":-31.6,"NS5":-59.4,"NS20":-76.7,"NM5":-47.2,"NM20":-64.9,"LE5":-64.7,"LE20":-52.6,"MU5":-48.8,"MU20":-60.1,"EN5":-56.9,"EN20":-57.4},
  {"t":8.6458,"ME":-36.5,"NS5":-62.7,"NS20":-82.6,"NM5":-50.0,"NM20":-68.6,"LE5":-68.2,"LE20":-55.4,"MU5":-51.5,"MU20":-63.4,"EN5":-59.9,"EN20":-60.4},
  {"t":8.6667,"ME":-45.5,"NS5":-66.0,"NS20":-88.4,"NM5":-52.7,"NM20":-72.1,"LE5":-71.6,"LE20":-58.2,"MU5":-54.2,"MU20":-66.5,"EN5":-62.8,"EN20":-63.3},
  {"t":8.6875,"ME":-32.1,"NS5":-68.5,"NS20":-91.9,"NM5":-54.8,"NM20":-75.0,"LE5":-74.3,"LE20":-60.4,"MU5":-56.2,"MU20":-69.1,"EN5":-65.1,"EN20":-65.6},
  {"t":8.7083,"ME":-41.0,"NS5":-74.3,"NS20":-94.2,"NM5":-59.6,"NM20":-81.3,"LE5":-80.3,"LE20":-65.3,"MU5":-61.0,"MU20":-74.7,"EN5":-70.3,"EN20":-70.8},
  {"t":8.7292,"ME":-38.9,"NS5":-76.3,"NS20":-98.9,"NM5":-61.3,"NM20":-83.5,"LE5":-82.4,"LE20":-67.0,"MU5":-62.6,"MU20":-76.7,"EN5":-72.1,"EN20":-72.6},
  {"t":8.75,"ME":-32.2,"NS5":-77.0,"NS20":-104.1,"NM5":-61.8,"NM20":-84.2,"LE5":-83.1,"LE20":-67.5,"MU5":-63.1,"MU20":-77.4,"EN5":-72.7,"EN20":-73.2},
  {"t":8.7708,"ME":-38.1,"NS5":-75.6,"NS20":-104.7,"NM5":-60.7,"NM20":-82.8,"LE5":-81.7,"LE20":-66.4,"MU5":-62.1,"MU20":-76.1,"EN5":-71.5,"EN20":-72.0},
  {"t":8.7917,"ME":-56.4,"NS5":-79.5,"NS20":-104.7,"NM5":-64.0,"NM20":-87.1,"LE5":-85.8,"LE20":-69.7,"MU5":-65.2,"MU20":-79.9,"EN5":-75.0,"EN20":-75.5},
  {"t":8.8125,"ME":-48.2,"NS5":-83.4,"NS20":-107.0,"NM5":-67.2,"NM20":-91.3,"LE5":-89.9,"LE20":-73.0,"MU5":-68.4,"MU20":-83.7,"EN5":-78.5,"EN20":-79.0},
  {"t":8.8333,"ME":-43.3,"NS5":-84.1,"NS20":-111.7,"NM5":-67.7,"NM20":-92.1,"LE5":-90.6,"LE20":-73.6,"MU5":-68.9,"MU20":-84.4,"EN5":-79.1,"EN20":-79.6},
  {"t":8.8542,"ME":-44.1,"NS5":-81.4,"NS20":-110.0,"NM5":-65.5,"NM20":-89.1,"LE5":-87.8,"LE20":-71.3,"MU5":-66.8,"MU20":-81.7,"EN5":-76.7,"EN20":-77.2},
  {"t":8.875,"ME":-40.6,"NS5":-82.1,"NS20":-109.6,"NM5":-66.1,"NM20":-89.9,"LE5":-88.5,"LE20":-71.9,"MU5":-67.3,"MU20":-82.4,"EN5":-77.3,"EN20":-77.8},
  {"t":8.8958,"ME":-37.7,"NS5":-84.1,"NS20":-112.3,"NM5":-67.7,"NM20":-92.1,"LE5":-90.6,"LE20":-73.6,"MU5":-68.9,"MU20":-84.4,"EN5":-79.1,"EN20":-79.6},
  {"t":8.9167,"ME":-32.5,"NS5":-88.0,"NS20":-116.4,"NM5":-71.0,"NM20":-96.3,"LE5":-94.7,"LE20":-76.9,"MU5":-72.1,"MU20":-88.2,"EN5":-82.6,"EN20":-83.1},
  {"t":8.9375,"ME":-50.2,"NS5":-91.9,"NS20":-119.3,"NM5":-74.2,"NM20":-100.6,"LE5":-98.8,"LE20":-80.2,"MU5":-75.3,"MU20":-92.0,"EN5":-86.1,"EN20":-86.6},
  {"t":8.9583,"ME":-55.2,"NS5":-94.4,"NS20":-124.5,"NM5":-76.4,"NM20":-103.4,"LE5":-101.5,"LE20":-82.3,"MU5":-77.4,"MU20":-94.5,"EN5":-88.4,"EN20":-88.9},
  {"t":8.9792,"ME":-40.8,"NS5":-91.9,"NS20":-121.0,"NM5":-74.2,"NM20":-100.6,"LE5":-98.8,"LE20":-80.2,"MU5":-75.3,"MU20":-92.0,"EN5":-86.1,"EN20":-86.6},
  {"t":9,"ME":-62.5,"NS5":-85.3,"NS20":-109.4,"NM5":-68.8,"NM20":-93.4,"LE5":-91.9,"LE20":-74.6,"MU5":-69.9,"MU20":-85.6,"EN5":-80.2,"EN20":-80.7}
 ]
},
"spacing":61,
"bounds":"flush",
"resolve":{"scale":{"x":"independent","y":"independent","color":"independent","strokeDash":"independent"},"legend":{"color":"independent","strokeDash":"independent"}},
"vconcat":[
 {
  "width":826,"height":322,
  "view":{"stroke":"#333333","strokeWidth":1.2},
  "resolve":{"axis":{"y":"independent"}},
  "layer":[
   {"data":{"name":"aw"},
    "transform":[{"fold":["NS5","NS20","NM5","NM20","LE5","LE20","MU5","MU20","EN5","EN20"],"as":["key","flux"]},
     {"lookup":"key","from":{"data":{"name":"keys"},"key":"key","fields":["aname"]}}],
    "mark":{"type":"line","strokeWidth":0.9},
    "encoding":{
     "x":{"field":"t","type":"quantitative","scale":{"domain":[-1.57,32.56],"nice":false,"zero":false},
      "axis":{"title":"Time (days)","values":[0,5,10,15,20,25,30],"grid":true,"gridWidth":{"condition":{"test":"datum.value % 10 == 0","value":1.2},"value":0.6},"tickOpacity":{"condition":{"test":"datum.value % 10 == 0","value":1},"value":0},"labelExpr":"datum.value % 10 == 0 ? datum.label : ''","titlePadding":4}},
     "y":{"field":"flux","type":"quantitative","scale":{"domain":[-371.5,137.5],"nice":false,"zero":false},
      "axis":{"title":"Sensible Heat Flux (W*m^-2)","values":[-300,-200,-100,0,100],"grid":true,"gridWidth":1.2,"titlePadding":8}},
     "color":{"field":"aname","type":"nominal",
      "scale":{"domain":["Measured Flux","Nield SD elev 5m grid","Nield SD elev 20m grid","Nield Max 5m grid","Nield Max 20m grid","Lettau 5m grid","Lettau 20m grid","Munro 5m grid","Munro 20m grid","Ensemble 5m grid","Ensemble 20m grid"],
               "range":["#F8766D","#DB8E00","#AEA200","#64B200","#00BD5C","#00C1A7","#00BADE","#00A6FF","#B385FF","#EF67EB","#FF63B6"]},
      "legend":{"title":"Legend","orient":"none","legendX":851,"legendY":34,"titleFont":"DejaVu Sans","titleFontSize":22,"titlePadding":19,"labelFont":"DejaVu Sans","labelFontSize":14,"labelExpr":"'= ' + datum.label","labelLimit":400,"symbolType":"M-4,0L12,0","symbolSize":12.25,"symbolStrokeWidth":7,"labelOffset":21,"rowPadding":-7.8}}
    }},
   {"data":{"name":"am"},"mark":{"type":"line","strokeWidth":1.8},
    "encoding":{"x":{"field":"t","type":"quantitative"},
     "y":{"field":"v","type":"quantitative","scale":{"domain":[-371.5,137.5],"nice":false,"zero":false},
      "axis":{"orient":"right","values":[-350,-250,-150,-50,50],"grid":true,"gridWidth":0.6,"labels":false,"ticks":false,"domain":false,"title":null}},
     "color":{"datum":"Measured Flux"}}},
   {"data":{"values":[{}]},"mark":{"type":"rule","strokeDash":[3,3],"color":"#333333","strokeWidth":1},"encoding":{"x":{"datum":8}}},
   {"data":{"values":[{}]},"mark":{"type":"rule","strokeDash":[3,3],"color":"#333333","strokeWidth":1},"encoding":{"x":{"datum":9}}},
   {"data":{"values":[{}]},"mark":{"type":"text","text":"A","fontSize":48,"font":"Liberation Sans","align":"center","baseline":"alphabetic","color":"#000000"},"encoding":{"x":{"datum":-0.66},"y":{"datum":-345,"axis":null}}}
  ]
 },
 {
  "width":845,"height":321,
  "view":{"stroke":"#333333","strokeWidth":1.2},
  "layer":[
   {"data":{"name":"bw"},
    "transform":[{"fold":["NS5","NS20","NM5","NM20","LE5","LE20","MU5","MU20","EN5","EN20"],"as":["key","flux"]},
     {"lookup":"key","from":{"data":{"name":"keys"},"key":"key","fields":["model","grid"]}}],
    "mark":{"type":"line","strokeWidth":1.3},
    "encoding":{
     "x":{"field":"t","type":"quantitative","scale":{"domain":[7.9505,9.0508],"nice":false,"zero":false},
      "axis":{"title":"Time (days)","values":[8,8.125,8.25,8.375,8.5,8.625,8.75,8.875,9],"grid":true,"gridWidth":{"condition":{"test":"abs(datum.value*4 - round(datum.value*4)) < 0.01","value":1.2},"value":0.6},"tickOpacity":{"condition":{"test":"abs(datum.value*4 - round(datum.value*4)) < 0.01","value":1},"value":0},"labelExpr":"abs(datum.value*4 - round(datum.value*4)) < 0.01 ? format(datum.value, '.2f') : ''","titlePadding":4}},
     "y":{"field":"flux","type":"quantitative","scale":{"domain":[-130.24,-18.36],"nice":false,"zero":false},
      "axis":{"title":"Sensible Heat Flux (W*m^-2)","values":[-125,-112.5,-100,-87.5,-75,-62.5,-50,-37.5,-25],"grid":true,"gridWidth":{"condition":{"test":"datum.value % 25 == 0","value":1.2},"value":0.6},"tickOpacity":{"condition":{"test":"datum.value % 25 == 0","value":1},"value":0},"labelExpr":"datum.value % 25 == 0 ? datum.label : ''","titlePadding":8}},
     "color":{"field":"model","type":"nominal",
      "scale":{"domain":["Measured Flux","Nield SD elev","Nield Max","Lettau","Munro","Ensemble"],"range":["#F8766D","#B79F00","#00BA38","#00BFC4","#619CFF","#F564E3"]},
      "legend":{"title":"Legend","orient":"none","legendX":869,"legendY":27,"titleFont":"DejaVu Sans","titleFontSize":22,"titlePadding":19,"labelFont":"DejaVu Sans","labelFontSize":14,"labelExpr":"'= ' + datum.label","labelLimit":400,"symbolType":"M-4,0L12,0","symbolSize":12.25,"symbolStrokeWidth":7,"labelOffset":21,"rowPadding":-7.6}},
     "strokeDash":{"field":"grid","type":"nominal","scale":{"domain":["5m","20m"],"range":[[6,5],[1.5,3.5]]},
      "legend":{"title":null,"orient":"none","legendX":869,"legendY":194,"labelFont":"DejaVu Sans","labelFontSize":14,"labelExpr":"'= ' + datum.label + ' grid'","symbolType":"M-5.5,0L10.5,0","symbolSize":12.25,"symbolStrokeWidth":1.2,"symbolStrokeColor":"#000000","labelOffset":27,"rowPadding":5.6}}
    }},
   {"data":{"name":"bw"},"mark":{"type":"line","strokeWidth":2},
    "encoding":{"x":{"field":"t","type":"quantitative"},"y":{"field":"ME","type":"quantitative"},"color":{"datum":"Measured Flux"}}},
   {"data":{"values":[{}]},"mark":{"type":"rule","strokeDash":[3,3],"color":"#333333","strokeWidth":1},"encoding":{"x":{"datum":8}}},
   {"data":{"values":[{}]},"mark":{"type":"rule","strokeDash":[3,3],"color":"#333333","strokeWidth":1},"encoding":{"x":{"datum":9}}},
   {"data":{"values":[{}]},"mark":{"type":"rule","strokeDash":[4,3],"color":"#333333","strokeWidth":1,"clip":false},"encoding":{"x":{"datum":8},"y":{"datum":-18.36},"x2":{"datum":8.251},"y2":{"datum":3.0}}},
   {"data":{"values":[{}]},"mark":{"type":"rule","strokeDash":[4,3],"color":"#333333","strokeWidth":1,"clip":false},"encoding":{"x":{"datum":9},"y":{"datum":-18.36},"x2":{"datum":8.284},"y2":{"datum":3.0}}},
   {"data":{"values":[{}]},"mark":{"type":"text","text":"B","fontSize":46,"font":"Liberation Sans","align":"center","baseline":"alphabetic","color":"#000000"},"encoding":{"x":{"datum":7.982},"y":{"datum":-124.0}}}
  ]
 },
 {
  "hconcat":[
   {"width":52,"height":386,"data":{"values":[{}]},"mark":{"type":"text","text":""}},
   {
    "data":{"name":"bw"},
    "transform":[{"fold":["ME","NS5","NS20","NM5","NM20","LE5","LE20","MU5","MU20","EN5","EN20"],"as":["key","flux"]},
     {"lookup":"key","from":{"data":{"name":"keys"},"key":"key","fields":["cm","grid"]}},
     {"joinaggregate":[{"op":"min","field":"flux","as":"lo"},{"op":"max","field":"flux","as":"hi"}],"groupby":["cm","grid"]},
     {"density":"flux","groupby":["cm","grid","lo","hi"]},
     {"filter":"datum.value >= datum.lo && datum.value <= datum.hi"},
     {"stack":"density","groupby":["value","cm","grid"],"offset":"center","as":["x0","x1"]}],
    "facet":{"column":{"field":"cm","type":"nominal","title":"Time (days)",
      "header":{"labelOrient":"bottom","titleOrient":"bottom","labelFontSize":15,"labelColor":"#4D4D4D","labelPadding":11,"titleFontSize":21,"titleFontWeight":"normal","titleColor":"#000000","titlePadding":-6}}},
    "spacing":0,
    "bounds":"flush",
    "resolve":{"scale":{"x":"independent"}},
    "spec":{
     "width":119,"height":386,
     "resolve":{"scale":{"x":"independent"},"axis":{"x":"independent","y":"independent"}},
     "layer":[
      {"transform":[{"fold":["x0","x1"],"as":["k","xv"]},{"aggregate":[{"op":"mean","field":"xv","as":"xc"}],"groupby":["cm"]}],
       "mark":{"type":"rule","color":"#EBEBEB","strokeWidth":1.2},
       "encoding":{
        "x":{"field":"xc","type":"quantitative","scale":{"zero":false,"nice":false},
         "axis":{"domain":true,"domainColor":"#333333","domainWidth":1.2,"ticks":false,"labels":false,"grid":false,"title":null}},
        "y":{"field":"value","type":"quantitative","scale":{"domain":[-130.83,-18.29],"nice":false,"zero":false},
         "axis":{"title":"Sensible Heat Flux (W*m^-2)","values":[-125,-112.5,-100,-87.5,-75,-62.5,-50,-37.5,-25],"grid":true,"gridWidth":{"condition":{"test":"datum.value % 25 == 0","value":1.2},"value":0.6},"tickOpacity":{"condition":{"test":"datum.value % 25 == 0","value":1},"value":0},"labelExpr":"datum.value % 25 == 0 ? datum.label : ''","titlePadding":8,"domain":true,"domainColor":"#333333","domainWidth":1.2}}
       }},
      {"transform":[{"fold":["x0","x1"],"as":["k","xv"]},{"aggregate":[{"op":"mean","field":"xv","as":"xc"}],"groupby":["cm"]}],
       "mark":{"type":"rule","color":"#333333","strokeWidth":1,"clip":false},
       "encoding":{
        "x":{"field":"xc","type":"quantitative","scale":{"zero":false,"nice":false},"axis":null},
        "y":{"datum":-130.83,"axis":null},
        "y2":{"datum":-132.3}
       }},
      {"transform":[{"filter":"datum.grid == '5m'"}],"mark":{"type":"area","orient":"horizontal","fillOpacity":0.6,"stroke":"#333333","strokeWidth":0.7,"strokeOpacity":0.85},
       "encoding":{
        "x":{"field":"x0","type":"quantitative","scale":{"zero":false,"nice":false,"padding":7},"axis":null},
        "x2":{"field":"x1"},
        "y":{"field":"value","type":"quantitative","axis":null},
        "color":{"field":"grid","type":"nominal","scale":{"domain":["20m","5m"],"range":["#F8766D","#00BFC4"]},
         "legend":{"title":"Legend","orient":"none","legendX":812,"legendY":204,"titleFont":"Liberation Sans","titleFontSize":22,"titlePadding":8,"labelFont":"Liberation Sans","labelFontSize":14,"symbolType":"square","symbolSize":289,"symbolOpacity":1,"symbolFillOpacity":1,"symbolStrokeColor":"#555555","symbolStrokeWidth":0.5,"rowPadding":0,"labelOffset":10}}
       }},
      {"transform":[{"filter":"datum.grid == '20m'"}],"mark":{"type":"area","orient":"horizontal","fillOpacity":0.6,"stroke":"#333333","strokeWidth":0.7,"strokeOpacity":0.85},
       "encoding":{
        "x":{"field":"x0","type":"quantitative","scale":{"zero":false,"nice":false,"padding":7},"axis":null},
        "x2":{"field":"x1"},
        "y":{"field":"value","type":"quantitative","axis":null},
        "color":{"field":"grid","type":"nominal"}
       }},
      {"transform":[{"filter":"datum.grid == 'meas'"}],"mark":{"type":"area","orient":"horizontal","fill":"#FF0000","fillOpacity":1,"stroke":"#222222","strokeWidth":0.8},
       "encoding":{
        "x":{"field":"x0","type":"quantitative","scale":{"zero":false,"nice":false,"padding":7},"axis":null},
        "x2":{"field":"x1"},
        "y":{"field":"value","type":"quantitative","axis":null}
       }},
      {"transform":[{"aggregate":[{"op":"count","as":"n"}],"groupby":["cm"]}],
       "mark":{"type":"rule","color":"#333333","strokeWidth":1.2,"clip":false},
       "encoding":{
        "y":{"datum":-18.29,"axis":{"orient":"right","domain":true,"domainColor":"#333333","domainWidth":1.2,"ticks":false,"labels":false,"grid":false,"title":null}}
       }},
      {"transform":[{"filter":"datum.cm == 'Ensemble' && datum.grid == '5m'"},{"aggregate":[{"op":"count","as":"n"}],"groupby":["cm"]}],
       "mark":{"type":"text","text":"C","fontSize":46,"font":"Liberation Sans","align":"left","baseline":"alphabetic","color":"#000000"},
       "encoding":{
        "x":{"datum":0.034,"scale":{"domain":[0,1],"nice":false,"zero":false},"axis":null},
        "y":{"datum":-128.2,"axis":null}
       }}
     ]
    }
   }
  ],
  "spacing":10,
  "bounds":"flush"
 }
]
}
